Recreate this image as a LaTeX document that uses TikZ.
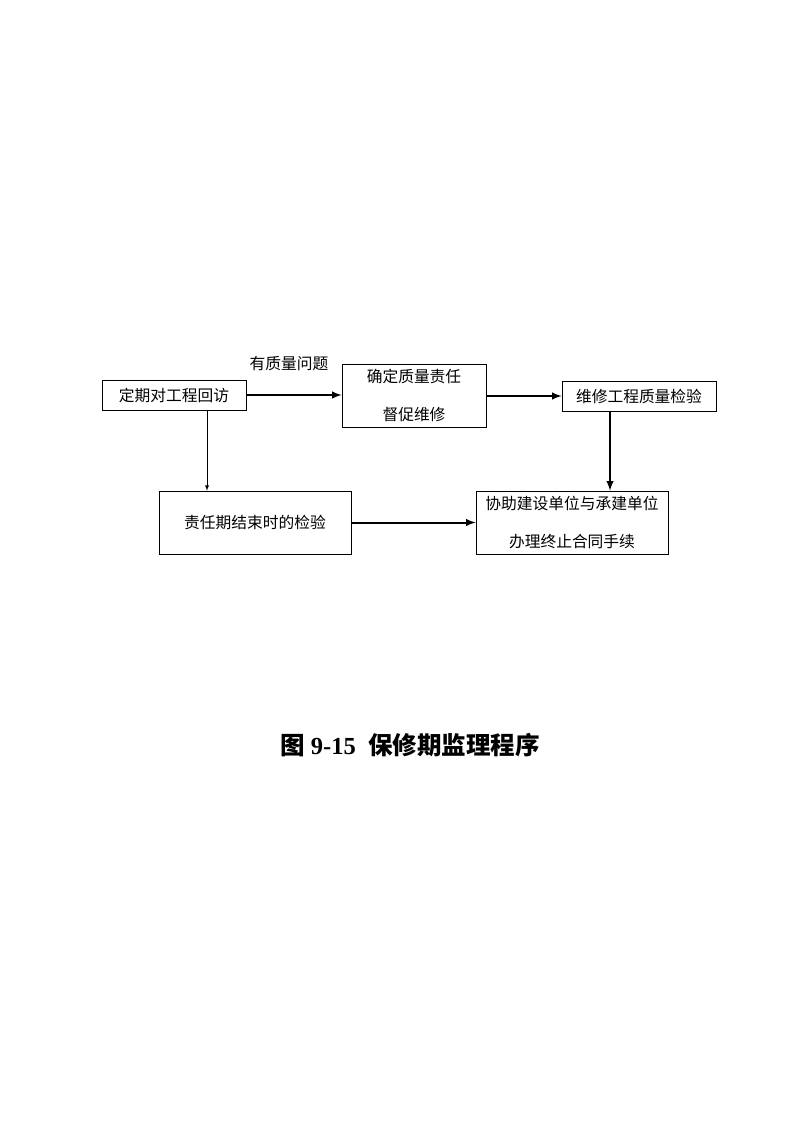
\documentclass[tikz,border=0pt]{standalone}
\usepackage{fontspec}
\setmainfont{Liberation Serif}
\newfontfamily\cjk{Noto Sans CJK SC}
\usepackage{tikz}

\begin{document}
\begin{tikzpicture}[x=0.75pt,y=-0.75pt,>=latex,
  box/.style={draw,thin,inner sep=0pt,font=\cjk\fontsize{11.8}{27.5}\selectfont,align=center},
  link/.style={->,line width=1.5pt,shorten >=0pt}]
\useasboundingbox (0,0) rectangle (794,1123);
\node[box,minimum width=108pt,minimum height=22.5pt] (visit) at (174,395) {定期对工程回访};
\node[box,minimum width=108pt,minimum height=47.25pt] (duty) at (414,395.5) {确定质量责任\\[1pt]督促维修};
\node[box,minimum width=115.5pt,minimum height=22.5pt] (check) at (639,396) {维修工程质量检验};
\node[box,minimum width=144pt,minimum height=47.25pt] (final) at (255,522.5) {责任期结束时的检验};
\node[box,minimum width=144pt,minimum height=47.25pt] (close) at (572,522.5) {协助建设单位与承建单位\\[1pt]办理终止合同手续};
\node[font=\cjk\fontsize{11.8}{14}\selectfont] (issue) at (289,364) {有质量问题};
\draw[link] (visit) -- (visit -| duty.west);
\draw[link] (duty.east |- check) -- (check);
\draw[link] (check.south -| 610,0) -- (close.north -| 610,0);
\draw[->,thin] (visit.south -| 207,0) -- (final.north -| 207,0);
\draw[link] (final) -- (close);
\node[font=\fontsize{18.4}{22}\selectfont\bfseries] (title) at (410,745) {{\cjk 图} 9-15\ \ {\cjk 保修期监理程序}};
\end{tikzpicture}
\end{document}
